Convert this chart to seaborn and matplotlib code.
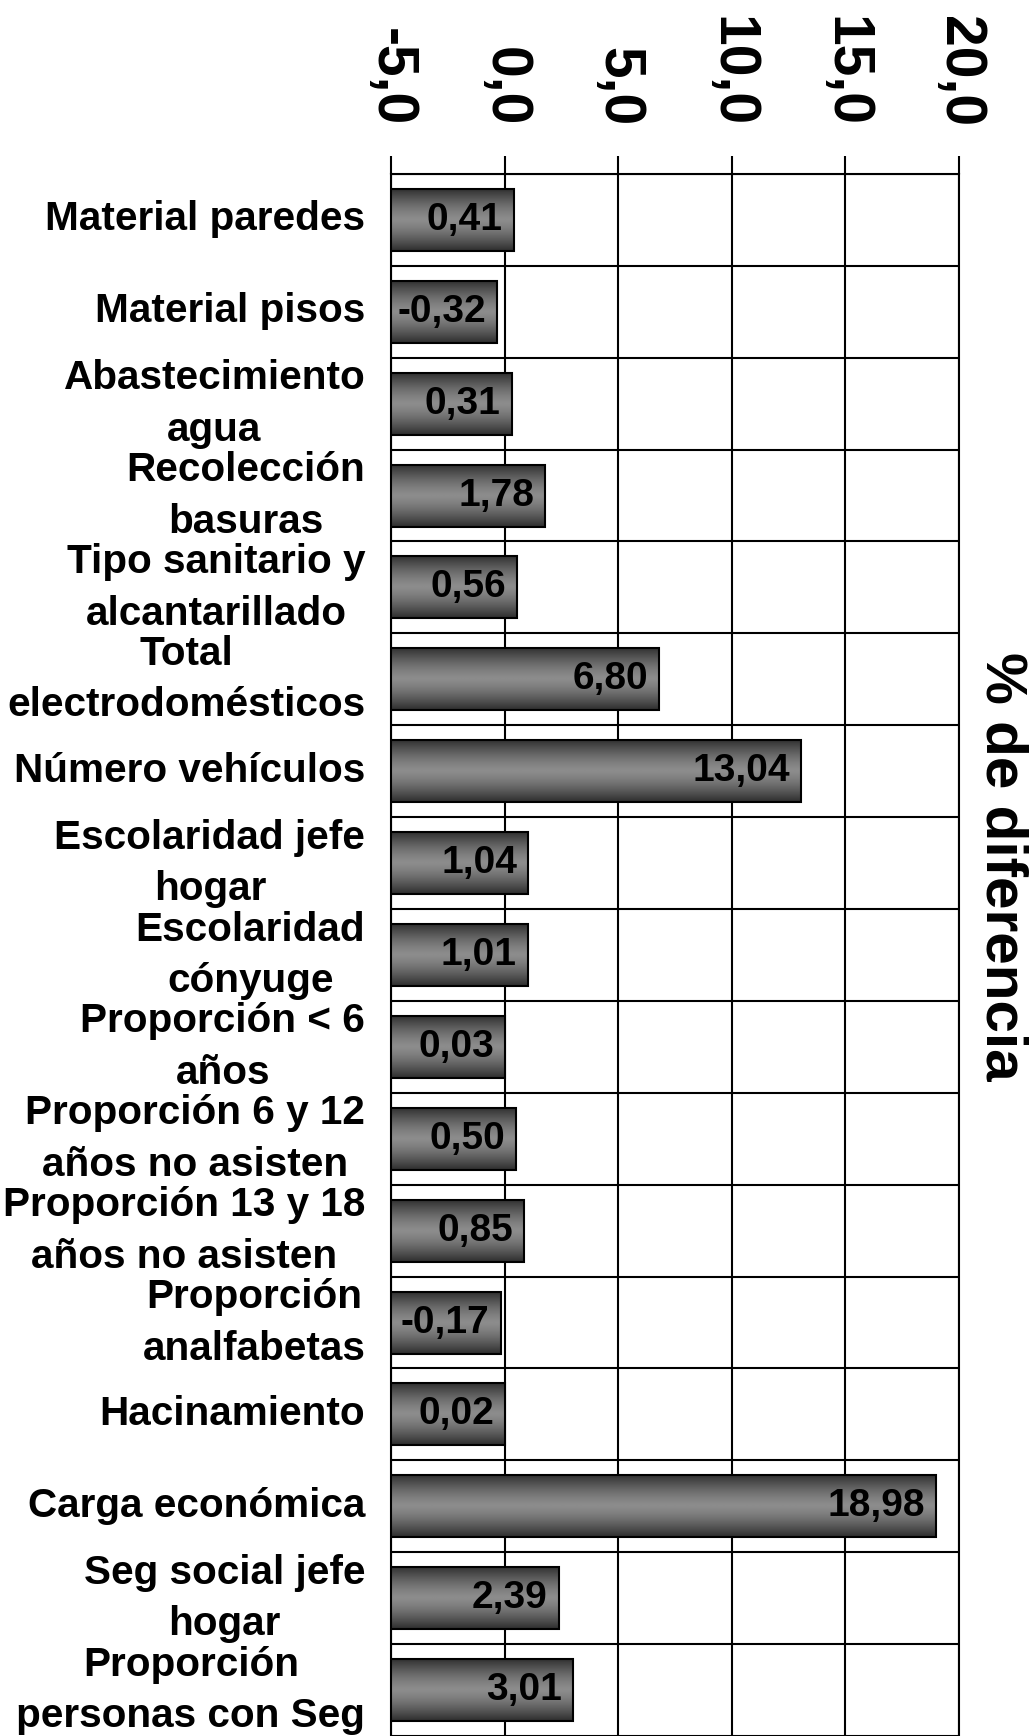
import numpy as np
import pandas as pd
import matplotlib
matplotlib.use("Agg")
import matplotlib.pyplot as plt
import matplotlib.transforms as mtrans
import seaborn as sns
from matplotlib.colors import LinearSegmentedColormap
from matplotlib.ticker import FixedLocator

# Datos del grafico

categorias = [
    "Material paredes",
    "Material pisos",
    "Abastecimiento\nagua",
    "Recolección\nbasuras",
    "Tipo sanitario y\nalcantarillado",
    "Total\nelectrodomésticos",
    "Número vehículos",
    "Escolaridad jefe\nhogar",
    "Escolaridad\ncónyuge",
    "Proporción < 6\naños",
    "Proporción 6 y 12\naños no asisten",
    "Proporción 13 y 18\naños no asisten",
    "Proporción\nanalfabetas",
    "Hacinamiento",
    "Carga económica",
    "Seg social jefe\nhogar",
    "Proporción\npersonas con Seg",
]
diferencias = [0.41, -0.32, 0.31, 1.78, 0.56, 6.80, 13.04, 1.04, 1.01,
               0.03, 0.50, 0.85, -0.17, 0.02, 18.98, 2.39, 3.01]
ticks_x = [-5, 0, 5, 10, 15, 20]
titulo_eje = "% de diferencia"

# el eje de categorias cruza en -5 (como en Excel)
BASE = ticks_x[0]

sns.set_style("white")
plt.rcParams['font.family'] = ['Liberation Sans', 'DejaVu Sans']
plt.rcParams['font.weight'] = 'bold'
plt.rcParams['text.color'] = 'black'
plt.rcParams['xtick.color'] = 'black'
plt.rcParams['ytick.color'] = 'black'
plt.rcParams['axes.labelcolor'] = 'black'

df = pd.DataFrame({"cat": categorias, "dif": diferencias})
df["largo"] = df["dif"] - BASE

fig = plt.figure(figsize=(10.35, 17.36), dpi=100)
ax = fig.add_axes([0.3778, 0.0, 0.5488, 0.8998])

sns.barplot(data=df, x="largo", y="cat", orient="h", ax=ax, width=0.675,
            left=BASE, color="#707070", edgecolor="black", linewidth=1.5,
            zorder=3)

ax.set_xlim(ticks_x[0], ticks_x[-1])
ax.set_ylim(len(categorias) - 0.5, -0.5)

# degradado vertical en las barras
cmap = LinearSegmentedColormap.from_list("gris", ["#8c8c8c", "#2e2e2e"])
grad = np.abs(np.linspace(-1, 1, 80))[:, None] ** 1.4
for p in ax.patches:
    x0, y0 = p.get_x(), p.get_y()
    x1, y1 = x0 + p.get_width(), y0 + p.get_height()
    im = ax.imshow(grad, extent=(x0, x1, y1, y0), aspect="auto", cmap=cmap,
                   vmin=0, vmax=1, zorder=2.9, interpolation="bilinear")
    im.set_clip_path(p)
    p.set_facecolor("none")
ax.set_xlim(ticks_x[0], ticks_x[-1])
ax.set_ylim(len(categorias) - 0.5, -0.5)

# etiquetas de valores
for i, v in enumerate(diferencias):
    ax.annotate(f"{v:.2f}".replace(".", ","), xy=(v, i), xytext=(-8, 0),
                textcoords="offset points", ha="right", va="center",
                fontsize=28, fontweight="bold", zorder=4, color="black")

# eje x arriba
ax.xaxis.tick_top()
ax.set_xticks(ticks_x)
ax.set_xticklabels([f"{t:.1f}".replace(".", ",") for t in ticks_x],
                   rotation=270, fontsize=41, fontweight="bold")
ax.tick_params(axis="x", direction="out", length=13, width=1.5, pad=21)
ax.set_xlabel("")
ax.set_ylabel("")

# categorias
ax.yaxis.set_minor_locator(FixedLocator(np.arange(-0.5, len(categorias), 1)))
ax.tick_params(axis="y", which="major", direction="inout", length=15,
               width=1.5, pad=11, labelsize=29.2)
ax.tick_params(axis="y", which="minor", direction="out", length=8, width=1.5)
for tick in ax.yaxis.get_major_ticks():
    lbl = tick.label1
    lbl.set_multialignment("center")
    lbl.set_linespacing(1.45)
    lbl.set_fontweight("bold")
    # subir un poco el texto como en el original
    dy = 7.5 if "\n" in lbl.get_text() else 3.2
    lbl.set_transform(lbl.get_transform() +
                      mtrans.ScaledTranslation(0, dy / 72, fig.dpi_scale_trans))

ax.set_axisbelow(True)
ax.grid(False)
ax.grid(True, axis="x", which="major", color="black", linewidth=1.5)
ax.grid(True, axis="y", which="minor", color="black", linewidth=1.5)

for s in ["left", "top", "right"]:
    ax.spines[s].set_visible(True)
    ax.spines[s].set_color("black")
    ax.spines[s].set_linewidth(1.5)
ax.spines["bottom"].set_visible(False)

fig.text(0.968, 0.501, titulo_eje, rotation=270, ha="center", va="center",
         fontsize=42, fontweight="bold")

fig.savefig("out.png", dpi=100)
